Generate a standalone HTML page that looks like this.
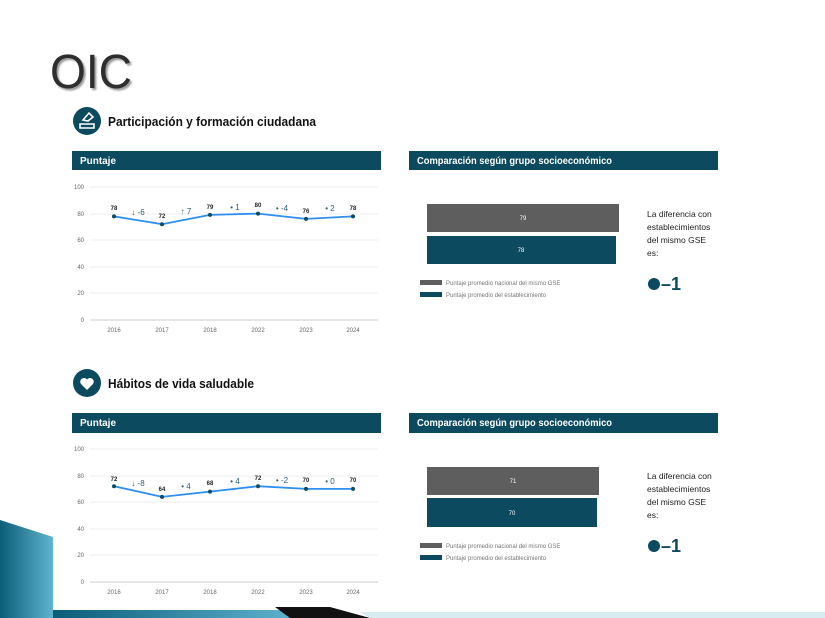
<!DOCTYPE html>
<html><head><meta charset="utf-8"><style>
html,body{margin:0;padding:0;background:#fff;}
svg{display:block;font-family:"Liberation Sans",sans-serif;}
</style></head><body>
<svg width="825" height="618" viewBox="0 0 825 618" xmlns="http://www.w3.org/2000/svg">
<defs>
<linearGradient id="tg" x1="0" y1="0" x2="1" y2="0"><stop offset="0" stop-color="#0b5d78"/><stop offset="1" stop-color="#5fb4cf"/></linearGradient>
</defs>
<rect width="825" height="618" fill="#fff"/>
<polygon points="0,520 53,537 53,618 0,618" fill="url(#tg)"/>
<polygon points="53,610 290,610 300,618 53,618" fill="url(#tg)"/>
<polygon points="275,607 330,607 370,618 290,618" fill="#111"/>
<polygon points="360,612 825,612 825,618 370,618" fill="#d7ebf1"/>
<text x="50" y="88" font-size="48" fill="#2e2e2e" textLength="82" lengthAdjust="spacingAndGlyphs" style="text-shadow:2px 2px 2px #999">OIC</text>

<circle cx="87" cy="121" r="14" fill="#0b4a5f"/>
<path d="M80 124 h14 v4 h-14z M83 120 l6 -7 l4 4 l-5 4z" fill="none" stroke="#fff" stroke-width="1.6"/>
<text x="108" y="126" font-size="13" font-weight="bold" fill="#111" textLength="208" lengthAdjust="spacingAndGlyphs">Participación y formación ciudadana</text>
<rect x="72" y="151" width="309" height="19" fill="#0b4a5f"/>
<text x="80" y="164" font-size="10" font-weight="bold" fill="#fff" textLength="36" lengthAdjust="spacingAndGlyphs">Puntaje</text>
<rect x="409" y="151" width="309" height="19" fill="#0b4a5f"/>
<text x="417" y="164" font-size="10" font-weight="bold" fill="#fff" textLength="195" lengthAdjust="spacingAndGlyphs">Comparación según grupo socioeconómico</text>
<g font-size="6" fill="#666">
<g stroke="#eee" stroke-width="1">
<line x1="90" y1="187" x2="378" y2="187"/><line x1="90" y1="214" x2="378" y2="214"/><line x1="90" y1="240" x2="378" y2="240"/><line x1="90" y1="267" x2="378" y2="267"/><line x1="90" y1="293" x2="378" y2="293"/>
</g>
<line x1="90" y1="320" x2="378" y2="320" stroke="#ccc"/>
<g text-anchor="end"><text x="84" y="189">100</text><text x="84" y="216">80</text><text x="84" y="242">60</text><text x="84" y="269">40</text><text x="84" y="295">20</text><text x="84" y="322">0</text></g>
<g text-anchor="middle"><text x="114" y="332">2016</text><text x="162" y="332">2017</text><text x="210" y="332">2018</text><text x="258" y="332">2022</text><text x="306" y="332">2023</text><text x="353" y="332">2024</text></g>
</g>
<polyline points="114,216.4 162,224.2 210,214.9 258,213.6 306,218.9 353,216.4" fill="none" stroke="#2f8ef0" stroke-width="1.8"/>
<g fill="#0b4a5f"><circle cx="114" cy="216.4" r="2"/><circle cx="162" cy="224.2" r="2"/><circle cx="210" cy="214.9" r="2"/><circle cx="258" cy="213.6" r="2"/><circle cx="306" cy="218.9" r="2"/><circle cx="353" cy="216.4" r="2"/></g>
<g font-size="6" font-weight="bold" fill="#222" text-anchor="middle"><text x="114" y="210">78</text><text x="162" y="218">72</text><text x="210" y="209">79</text><text x="258" y="207">80</text><text x="306" y="213">76</text><text x="353" y="210">78</text></g>
<g font-size="8" fill="#2a5f78" text-anchor="middle"><text x="138" y="215">↓ -6</text><text x="186" y="214">↑ 7</text><text x="235" y="210">• 1</text><text x="282" y="211">• -4</text><text x="330" y="211">• 2</text></g>
<rect x="427" y="204" width="192" height="28" fill="#5e5e5e"/>
<text x="523" y="220" font-size="6" fill="#fff" text-anchor="middle">79</text>
<rect x="427" y="236" width="189" height="28" fill="#0b4a5f"/>
<text x="521" y="252" font-size="6" fill="#fff" text-anchor="middle">78</text>
<rect x="420" y="280" width="22" height="5" fill="#5e5e5e"/><text x="446" y="285" font-size="6" fill="#777">Puntaje promedio nacional del mismo GSE</text>
<rect x="420" y="292" width="22" height="5" fill="#0b4a5f"/><text x="446" y="297" font-size="6" fill="#777">Puntaje promedio del establecimiento</text>
<g font-size="8.5" fill="#222"><text x="647" y="217">La diferencia con</text><text x="647" y="230">establecimientos</text><text x="647" y="243">del mismo GSE</text><text x="647" y="256">es:</text></g>
<circle cx="654" cy="284" r="6" fill="#0b4a5f"/><text x="661" y="290" font-size="18" font-weight="bold" fill="#0b4a5f">–1</text>

<circle cx="87" cy="383" r="14" fill="#0b4a5f"/>
<path d="M87 390 l-6 -6 a3.3 3.3 0 0 1 6 -4.5 a3.3 3.3 0 0 1 6 4.5z" fill="#fff"/>
<text x="108" y="388" font-size="13" font-weight="bold" fill="#111" textLength="146" lengthAdjust="spacingAndGlyphs">Hábitos de vida saludable</text>
<rect x="72" y="413" width="309" height="20" fill="#0b4a5f"/>
<text x="80" y="426" font-size="10" font-weight="bold" fill="#fff" textLength="36" lengthAdjust="spacingAndGlyphs">Puntaje</text>
<rect x="409" y="413" width="309" height="20" fill="#0b4a5f"/>
<text x="417" y="426" font-size="10" font-weight="bold" fill="#fff" textLength="195" lengthAdjust="spacingAndGlyphs">Comparación según grupo socioeconómico</text>
<g font-size="6" fill="#666">
<g stroke="#eee" stroke-width="1">
<line x1="90" y1="449" x2="378" y2="449"/><line x1="90" y1="476" x2="378" y2="476"/><line x1="90" y1="502" x2="378" y2="502"/><line x1="90" y1="529" x2="378" y2="529"/><line x1="90" y1="555" x2="378" y2="555"/>
</g>
<line x1="90" y1="582" x2="378" y2="582" stroke="#ccc"/>
<g text-anchor="end"><text x="84" y="451">100</text><text x="84" y="478">80</text><text x="84" y="504">60</text><text x="84" y="531">40</text><text x="84" y="557">20</text><text x="84" y="584">0</text></g>
<g text-anchor="middle"><text x="114" y="594">2016</text><text x="162" y="594">2017</text><text x="210" y="594">2018</text><text x="258" y="594">2022</text><text x="306" y="594">2023</text><text x="353" y="594">2024</text></g>
</g>
<polyline points="114,486.2 162,496.9 210,491.6 258,486.2 306,488.9 353,488.9" fill="none" stroke="#2f8ef0" stroke-width="1.8"/>
<g fill="#0b4a5f"><circle cx="114" cy="486.2" r="2"/><circle cx="162" cy="496.9" r="2"/><circle cx="210" cy="491.6" r="2"/><circle cx="258" cy="486.2" r="2"/><circle cx="306" cy="488.9" r="2"/><circle cx="353" cy="488.9" r="2"/></g>
<g font-size="6" font-weight="bold" fill="#222" text-anchor="middle"><text x="114" y="481">72</text><text x="162" y="491">64</text><text x="210" y="485">68</text><text x="258" y="480">72</text><text x="306" y="482">70</text><text x="353" y="482">70</text></g>
<g font-size="8" fill="#2a5f78" text-anchor="middle"><text x="138" y="486">↓ -8</text><text x="186" y="489">• 4</text><text x="235" y="484">• 4</text><text x="282" y="483">• -2</text><text x="330" y="484">• 0</text></g>
<rect x="427" y="467" width="172" height="28" fill="#5e5e5e"/>
<text x="513" y="483" font-size="6" fill="#fff" text-anchor="middle">71</text>
<rect x="427" y="498" width="170" height="29" fill="#0b4a5f"/>
<text x="512" y="515" font-size="6" fill="#fff" text-anchor="middle">70</text>
<rect x="420" y="543" width="22" height="5" fill="#5e5e5e"/><text x="446" y="548" font-size="6" fill="#777">Puntaje promedio nacional del mismo GSE</text>
<rect x="420" y="555" width="22" height="5" fill="#0b4a5f"/><text x="446" y="560" font-size="6" fill="#777">Puntaje promedio del establecimiento</text>
<g font-size="8.5" fill="#222"><text x="647" y="479">La diferencia con</text><text x="647" y="492">establecimientos</text><text x="647" y="505">del mismo GSE</text><text x="647" y="518">es:</text></g>
<circle cx="654" cy="546" r="6" fill="#0b4a5f"/><text x="661" y="552" font-size="18" font-weight="bold" fill="#0b4a5f">–1</text>
</svg>
</body></html>
